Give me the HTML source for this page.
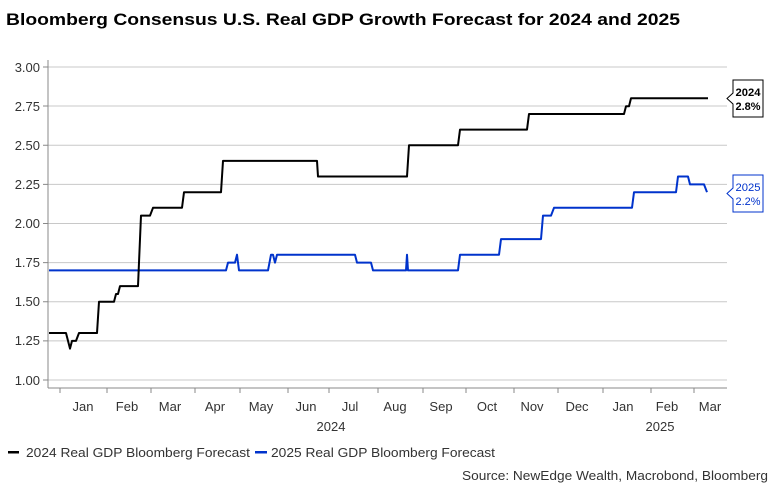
<!DOCTYPE html>
<html><head><meta charset="utf-8"><style>
body{margin:0;background:#fff;}
svg{display:block;font-family:"Liberation Sans",Arial,sans-serif;}
</style></head><body>
<svg width="780" height="495" viewBox="0 0 780 495">
<text x="6" y="25" font-size="17" font-weight="bold" fill="#000" textLength="674" lengthAdjust="spacingAndGlyphs">Bloomberg Consensus U.S. Real GDP Growth Forecast for 2024 and 2025</text>
<g stroke="#c8c8c8" stroke-width="1">
<line x1="48" x2="727" y1="67" y2="67"/><line x1="48" x2="727" y1="106" y2="106"/>
<line x1="48" x2="727" y1="145.3" y2="145.3"/><line x1="48" x2="727" y1="184.4" y2="184.4"/>
<line x1="48" x2="727" y1="223.5" y2="223.5"/><line x1="48" x2="727" y1="262.6" y2="262.6"/>
<line x1="48" x2="727" y1="301.8" y2="301.8"/><line x1="48" x2="727" y1="340.9" y2="340.9"/>
<line x1="48" x2="727" y1="380" y2="380"/>
</g>
<g stroke="#888" stroke-width="1">
<line x1="48" x2="48" y1="60" y2="388"/><line x1="48" x2="727" y1="388" y2="388"/>
<path d="M60 388v5M107 388v5M151 388v5M195 388v5M240 388v5M288 388v5M329 388v5M378 388v5M423 388v5M466 388v5M514 388v5M558 388v5M603 388v5M651 388v5M694 388v5"/>
<path d="M43 67h5M43 106h5M43 145.3h5M43 184.4h5M43 223.5h5M43 262.6h5M43 301.8h5M43 340.9h5M43 380h5"/>
</g>
<g font-size="13" fill="#333" text-anchor="end">
<text x="40" y="72">3.00</text><text x="40" y="111">2.75</text><text x="40" y="150">2.50</text><text x="40" y="189">2.25</text><text x="40" y="228">2.00</text><text x="40" y="267">1.75</text><text x="40" y="306">1.50</text><text x="40" y="345">1.25</text><text x="40" y="385">1.00</text>
</g>
<g font-size="13" fill="#333" text-anchor="middle">
<text x="83" y="411">Jan</text><text x="127" y="411">Feb</text><text x="170" y="411">Mar</text><text x="215" y="411">Apr</text><text x="261" y="411">May</text><text x="306" y="411">Jun</text><text x="350" y="411">Jul</text><text x="395" y="411">Aug</text><text x="441" y="411">Sep</text><text x="487" y="411">Oct</text><text x="532" y="411">Nov</text><text x="577" y="411">Dec</text><text x="623" y="411">Jan</text><text x="667" y="411">Feb</text><text x="710" y="411">Mar</text>
<text x="331" y="431">2024</text><text x="660" y="431">2025</text>
</g>
<path fill="none" stroke="#0033cc" stroke-width="2" stroke-linejoin="round" d="M49 270.4H226L228 262.6H235L237 254.7L239 270.4H268L271 254.7L273 254.7L275 262.6L277 254.7H355L357 262.6H371L373 270.4H406L407 254.7L408 270.4H458L460 254.7H499L501 239.1H541L543 215.6H551L554 207.8H632L634 192.2H676L678 176.5H688L690 184.4H704L707 192.2"/>
<path fill="none" stroke="#000" stroke-width="2" stroke-linejoin="round" d="M49 333H66L70 348.6L72 340.9H76L79 333H97L99 301.8H114L116 294H118L120 286.1H138L141 215.6H150L153 207.8H182L184 192.2H221L223 160.9H317L318 176.5H407L409 145.3H458L460 129.6H527L529 114H624L626 106.2H629L631 98.3H708"/>
<g font-size="11">
<path d="M733 80H763V117H733V104L727 98.5L733 93Z" fill="#fff" stroke="#000"/>
<text x="735.5" y="96" font-weight="bold" textLength="25" lengthAdjust="spacingAndGlyphs">2024</text><text x="735.5" y="110" font-weight="bold" textLength="25" lengthAdjust="spacingAndGlyphs">2.8%</text>
<path d="M733 175H763V212H733V199L727 193.5L733 188Z" fill="#fff" stroke="#0033cc"/>
<text x="735.5" y="191" fill="#0033cc" textLength="25" lengthAdjust="spacingAndGlyphs">2025</text><text x="735.5" y="205" fill="#0033cc" textLength="25" lengthAdjust="spacingAndGlyphs">2.2%</text>
</g>
<g font-size="13" fill="#333">
<rect x="8" y="451" width="11" height="2.5" fill="#000"/>
<text x="26" y="457" textLength="224" lengthAdjust="spacingAndGlyphs">2024 Real GDP Bloomberg Forecast</text>
<rect x="255" y="451" width="12" height="2.5" fill="#0033cc"/>
<text x="271" y="457" textLength="224" lengthAdjust="spacingAndGlyphs">2025 Real GDP Bloomberg Forecast</text>
<text x="462" y="480" textLength="306" lengthAdjust="spacingAndGlyphs">Source: NewEdge Wealth, Macrobond, Bloomberg</text>
</g>
</svg>
</body></html>
